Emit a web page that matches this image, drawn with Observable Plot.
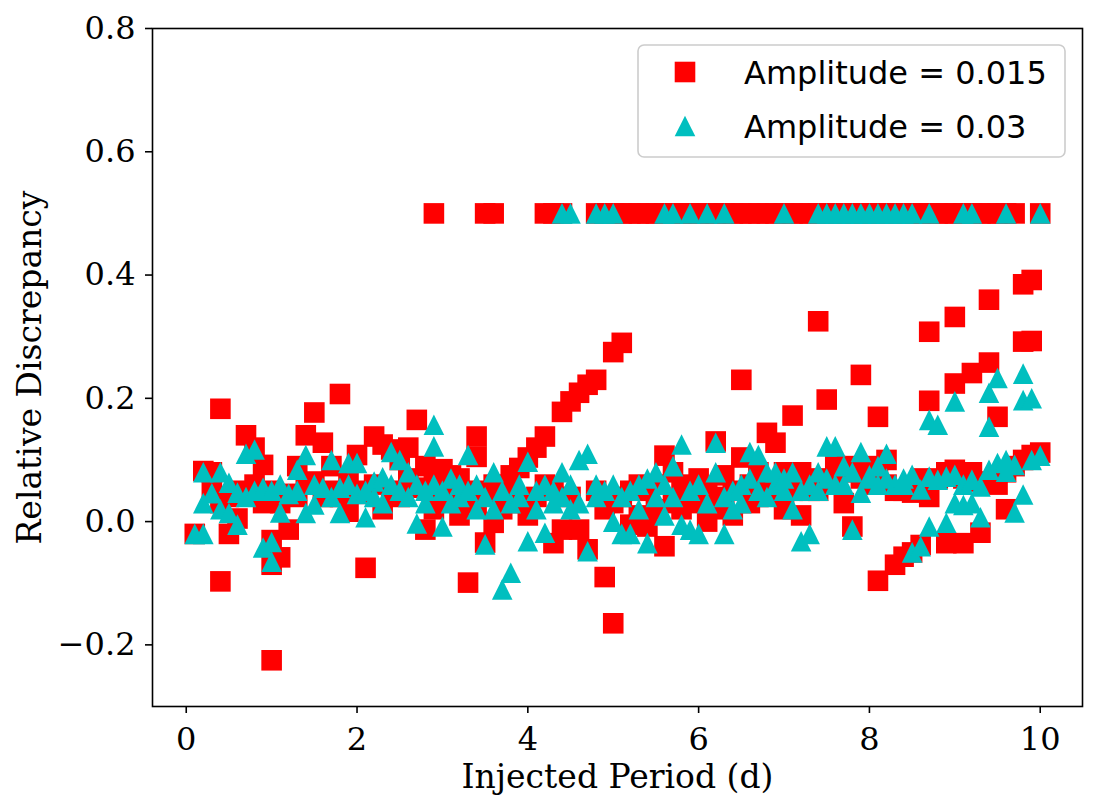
<!DOCTYPE html>
<html>
<head>
<meta charset="utf-8">
<script src="https://cdn.jsdelivr.net/npm/d3@7"></script>
<script src="https://cdn.jsdelivr.net/npm/@observablehq/plot@0.6"></script>
<style>
  body { margin: 0; background: #fff; }
  #wrap { position: relative; width: 1104px; height: 811px; }
  #legend { position: absolute; left: 637px; top: 44px; }
</style>
</head>
<body>
<div id="wrap"></div>
<script>
// Recovered period discrepancies, [injected period (d), relative discrepancy]
const amp015Points = [
  [0.1,-0.02],[0.2,0.082],[0.3,0.08],[0.3,0.05],[0.4,0.183],[0.4,0.03],[0.4,-0.097],
  [0.5,-0.02],[0.5,0.04],[0.6,0.005],[0.6,0.05],[0.7,0.14],[0.7,0.045],[0.8,0.12],[0.8,0.06],
  [0.9,0.092],[0.9,0.03],[1.0,-0.225],[1.0,-0.07],[1.0,-0.03],[1.0,0.05],[1.1,-0.058],[1.1,0.03],
  [1.2,-0.013],[1.2,0.045],[1.3,0.09],[1.3,0.04],[1.4,0.14],[1.4,0.06],[1.5,0.177],[1.5,0.065],
  [1.6,0.128],[1.6,0.04],[1.7,0.09],[1.7,0.05],[1.8,0.207],[1.8,0.04],[1.9,0.016],[1.9,0.065],
  [2.0,0.108],[2.0,0.045],[2.1,-0.075],[2.1,0.05],[2.2,0.138],[2.2,0.06],[2.3,0.125],[2.3,0.02],
  [2.4,0.117],[2.4,0.05],[2.5,0.1],[2.5,0.04],[2.6,0.12],[2.6,0.07],[2.7,0.165],[2.7,0.055],
  [2.8,-0.013],[2.8,0.09],[2.9,0.06],[2.9,0.02],[3.0,0.085],[3.0,0.05],[3.1,0.04],[3.1,0.075],
  [3.2,0.07],[3.2,0.01],[3.3,-0.099],[3.3,0.05],[3.4,0.138],[3.4,0.105],[3.4,0.03],
  [3.5,-0.034],[3.5,0.05],[3.6,-0.002],[3.6,0.06],[3.7,0.04],[3.7,0.02],[3.8,0.075],[3.8,0.05],
  [3.9,0.087],[3.9,0.03],[4.0,0.104],[4.0,0.01],[4.1,0.12],[4.1,0.04],[4.2,0.138],[4.2,0.06],
  [4.3,-0.035],[4.3,0.05],[4.4,0.178],[4.4,-0.013],[4.5,0.195],[4.5,0.04],[4.6,0.209],[4.6,-0.013],
  [4.7,0.222],[4.7,-0.045],[4.8,0.23],[4.8,0.05],[4.9,-0.09],[4.9,0.02],[5.0,0.275],[5.0,-0.165],
  [5.0,0.03],[5.1,0.29],[5.1,0.04],[5.2,0.05],[5.2,-0.005],[5.3,0.06],[5.3,0.01],[5.4,-0.008],
  [5.4,0.05],[5.5,0.06],[5.5,0.02],[5.6,0.107],[5.6,-0.04],[5.7,0.08],[5.7,0.03],[5.8,0.05],
  [5.8,0.02],[5.9,0.06],[5.9,0.04],[6.0,0.03],[6.0,0.07],[6.1,0.05],[6.1,0.0],[6.2,0.13],
  [6.2,0.04],[6.3,0.075],[6.3,0.02],[6.4,0.05],[6.4,0.01],[6.5,0.23],[6.5,0.104],[6.6,0.06],
  [6.6,0.03],[6.7,0.08],[6.7,0.04],[6.8,0.144],[6.8,0.06],[6.9,0.128],[6.9,0.05],[7.0,0.08],
  [7.0,0.02],[7.1,0.172],[7.1,0.05],[7.2,0.08],[7.2,0.01],[7.3,0.07],[7.3,0.05],[7.4,0.325],
  [7.4,0.05],[7.5,0.198],[7.5,0.07],[7.6,0.09],[7.6,0.06],[7.7,0.03],[7.7,0.08],[7.8,-0.008],
  [7.8,0.09],[7.9,0.238],[7.9,0.07],[8.0,0.09],[8.0,0.06],[8.1,0.17],[8.1,-0.096],[8.1,0.08],
  [8.2,0.06],[8.2,0.1],[8.3,-0.07],[8.3,0.05],[8.4,-0.057],[8.4,0.05],[8.5,-0.05],[8.5,0.047],
  [8.6,-0.038],[8.6,0.07],[8.7,0.308],[8.7,0.196],[8.7,0.04],[8.8,0.07],[8.9,-0.035],[8.9,0.08],
  [9.0,0.332],[9.0,0.224],[9.0,0.084],[9.1,-0.035],[9.1,0.07],[9.2,0.241],[9.2,0.08],
  [9.3,-0.018],[9.3,0.065],[9.4,0.36],[9.4,0.258],[9.5,0.17],[9.5,0.06],[9.6,0.02],[9.6,0.08],
  [9.7,0.09],[9.8,0.385],[9.8,0.292],[9.8,0.1],[9.9,0.392],[9.9,0.293],[9.9,0.108],[10.0,0.112]
];

const amp03Points = [
  [0.1,-0.02],[0.2,0.08],[0.2,0.03],[0.2,-0.02],[0.3,0.046],[0.4,0.08],[0.4,0.02],
  [0.5,0.063],[0.5,0.014],[0.6,0.047],[0.6,-0.005],[0.7,0.11],[0.7,0.04],[0.8,0.117],[0.8,0.05],
  [0.9,0.055],[0.9,-0.042],[1.0,-0.033],[1.0,-0.065],[1.0,0.05],[1.1,0.06],[1.1,0.015],
  [1.2,0.045],[1.3,0.084],[1.3,0.05],[1.4,0.108],[1.4,0.014],[1.5,0.06],[1.5,0.028],[1.6,0.055],
  [1.7,0.1],[1.7,0.04],[1.8,0.055],[1.8,0.014],[1.9,0.095],[1.9,0.06],[2.0,0.095],[2.0,0.045],
  [2.1,0.007],[2.1,0.05],[2.2,0.065],[2.2,0.04],[2.3,0.072],[2.3,0.03],[2.4,0.113],[2.4,0.06],
  [2.5,0.1],[2.5,0.05],[2.6,0.08],[2.6,0.04],[2.7,-0.003],[2.7,0.06],[2.8,0.05],[2.8,0.03],
  [2.9,0.157],[2.9,0.122],[2.9,0.06],[3.0,-0.008],[3.0,0.05],[3.1,0.07],[3.1,0.03],[3.2,0.04],
  [3.2,0.06],[3.3,0.108],[3.3,0.05],[3.4,0.02],[3.4,0.06],[3.5,-0.037],[3.5,0.04],[3.6,0.08],
  [3.6,0.02],[3.7,-0.11],[3.7,0.05],[3.8,-0.083],[3.8,0.03],[3.9,0.06],[3.9,0.04],[4.0,0.097],
  [4.0,-0.032],[4.1,0.05],[4.1,0.02],[4.2,-0.018],[4.2,0.06],[4.3,0.03],[4.3,0.05],[4.4,0.04],
  [4.4,0.08],[4.5,0.06],[4.5,0.02],[4.6,0.1],[4.6,0.03],[4.7,0.11],[4.7,-0.048],[4.8,0.04],
  [4.8,0.06],[4.9,0.05],[5.0,0.06],[5.0,0.0],[5.1,0.04],[5.1,-0.02],[5.2,0.05],[5.2,-0.02],
  [5.3,0.06],[5.3,0.02],[5.4,-0.035],[5.4,0.07],[5.5,0.08],[5.5,0.04],[5.6,0.01],[5.6,0.06],
  [5.7,0.09],[5.7,0.04],[5.8,0.125],[5.8,-0.005],[5.9,-0.013],[5.9,0.05],[6.0,-0.02],[6.0,0.06],
  [6.1,0.03],[6.2,0.128],[6.2,0.08],[6.3,-0.02],[6.3,0.04],[6.4,0.02],[6.4,0.05],[6.5,0.06],
  [6.5,0.03],[6.6,0.113],[6.6,0.07],[6.7,0.108],[6.7,0.05],[6.8,0.08],[6.8,0.04],[6.9,0.06],
  [6.9,0.08],[7.0,0.05],[7.0,0.07],[7.1,0.02],[7.1,0.08],[7.2,-0.032],[7.2,0.05],[7.3,-0.02],
  [7.3,0.06],[7.4,0.05],[7.4,0.08],[7.5,0.122],[7.5,0.07],[7.6,0.122],[7.6,0.06],[7.7,0.09],
  [7.7,0.06],[7.8,-0.013],[7.8,0.08],[7.9,0.113],[7.9,0.047],[8.0,0.075],[8.0,0.07],[8.1,0.09],
  [8.1,0.06],[8.2,0.11],[8.2,0.07],[8.3,0.06],[8.4,0.07],[8.4,0.06],[8.5,-0.05],[8.5,0.076],
  [8.6,-0.04],[8.6,0.052],[8.7,0.165],[8.7,-0.008],[8.7,0.073],[8.8,0.157],[8.8,0.068],
  [8.9,-0.002],[8.9,0.073],[9.0,0.195],[9.0,0.03],[9.0,0.076],[9.1,0.027],[9.1,0.06],
  [9.2,0.03],[9.2,0.068],[9.3,0.007],[9.3,0.057],[9.4,0.209],[9.4,0.154],[9.4,0.084],
  [9.5,0.233],[9.5,0.095],[9.6,0.081],[9.6,0.1],[9.7,0.015],[9.7,0.092],[9.8,0.24],[9.8,0.197],
  [9.8,0.044],[9.9,0.2],[9.9,0.1],[10.0,0.107]
];

// Periods whose discrepancy sits at the 0.5 ceiling
const capValue = 0.5;
const amp015Capped = [
  2.9, 3.5, 3.6, 4.2, 4.3, 4.4, 4.8, 4.9, 5.0, 5.1, 5.2, 5.3, 5.4, 5.5, 5.6, 5.7, 5.8, 5.9,
  6.0, 6.1, 6.2, 6.3, 6.4, 6.5, 6.6, 6.7, 6.8, 6.9, 7.0, 7.1, 7.2, 7.3, 7.4, 7.5, 7.6, 7.7,
  7.8, 7.9, 8.0, 8.1, 8.2, 8.3, 8.4, 8.5, 8.6, 8.7, 8.8, 8.9, 9.0, 9.1, 9.2, 9.3, 9.4, 9.5,
  9.6, 9.7, 10.0
];
const amp03Capped = [
  4.4, 4.5, 4.8, 4.9, 5.0, 5.6, 5.7, 5.9, 6.1, 6.3, 7.0, 7.4, 7.5, 7.6, 7.7, 7.8, 7.9, 8.0,
  8.1, 8.2, 8.3, 8.4, 8.5, 8.7, 9.1, 9.2, 9.6, 10.0
];

const xTicks = [0, 2, 4, 6, 8, 10];
const yTicks = [-0.2, 0.0, 0.2, 0.4, 0.6, 0.8];
const seriesLabels = ["Amplitude = 0.015", "Amplitude = 0.03"];
const seriesColors = ["#ff0000", "#00bfbf"];

// Table rows for the dot marks
const toRows = (pts, capped) =>
  pts.map(([period, disc]) => ({period, disc}))
     .concat(capped.map(period => ({period, disc: capValue})));
const amp015 = toRows(amp015Points, amp015Capped);
const amp03 = toRows(amp03Points, amp03Capped);

// Marker shapes: a square and an upward triangle as wide as it is tall
const squareSymbol = {
  draw(ctx, size) {
    const r = Math.sqrt(size / Math.PI);
    ctx.moveTo(-r, -r); ctx.lineTo(r, -r); ctx.lineTo(r, r); ctx.lineTo(-r, r); ctx.closePath();
  }
};
const triangleSymbol = {
  draw(ctx, size) {
    const r = Math.sqrt(size / Math.PI);
    ctx.moveTo(0, -r); ctx.lineTo(r, r); ctx.lineTo(-r, r); ctx.closePath();
  }
};
const markerR = 10.3;

const chart = Plot.plot({
  width: 1104,
  height: 811,
  marginLeft: 152,
  marginRight: 22,
  marginTop: 28,
  marginBottom: 105,
  style: {fontFamily: "'DejaVu Serif', serif", fontSize: "32px", background: "white", color: "black"},
  x: {domain: [-0.395, 10.495]},
  y: {domain: [-0.3, 0.8]},
  marks: [
    Plot.dot(amp015, {x: "period", y: "disc", symbol: squareSymbol, r: markerR, fill: seriesColors[0]}),
    Plot.dot(amp03, {x: "period", y: "disc", symbol: triangleSymbol, r: markerR, fill: seriesColors[1]}),
    Plot.frame({stroke: "black", strokeWidth: 1.6}),
    Plot.axisX({ticks: xTicks, tickSize: 7, tickPadding: 14, strokeWidth: 1.6, label: null,
                tickFormat: d => String(d), fontSize: 32}),
    Plot.axisY({ticks: yTicks, tickSize: 7, tickPadding: 10, strokeWidth: 1.6, label: null,
                tickFormat: d3.format(".1f"), fontSize: 32}),
    Plot.text(["Injected Period (d)"], {frameAnchor: "bottom", dy: 71, text: d => d,
                fontSize: 33, textAnchor: "middle", lineAnchor: "middle"}),
    Plot.text(["Relative Discrepancy"], {frameAnchor: "left", dx: -122, rotate: -90, text: d => d,
                fontSize: 33, textAnchor: "middle", lineAnchor: "middle"})
  ]
});

const wrap = document.getElementById("wrap");
wrap.appendChild(chart);

// Legend box in the upper right of the axes
const legend = d3.create("svg")
  .attr("id", "legend")
  .attr("width", 430)
  .attr("height", 115);
legend.append("rect")
  .attr("x", 1).attr("y", 1).attr("width", 427).attr("height", 112)
  .attr("rx", 6).attr("fill", "rgba(255,255,255,0.8)")
  .attr("stroke", "#cccccc").attr("stroke-width", 1.6);
const shapes = [squareSymbol, triangleSymbol];
seriesLabels.forEach((label, i) => {
  const cy = 28 + i * 54;
  legend.append("path")
    .attr("transform", `translate(48,${cy})`)
    .attr("d", d3.symbol(shapes[i], markerR * markerR * Math.PI)())
    .attr("fill", seriesColors[i]);
  legend.append("text")
    .attr("x", 107).attr("y", cy + 11.5)
    .attr("font-family", "'DejaVu Sans', sans-serif")
    .attr("font-size", 32)
    .attr("fill", "black")
    .text(label);
});
wrap.appendChild(legend.node());
</script>
</body>
</html>
